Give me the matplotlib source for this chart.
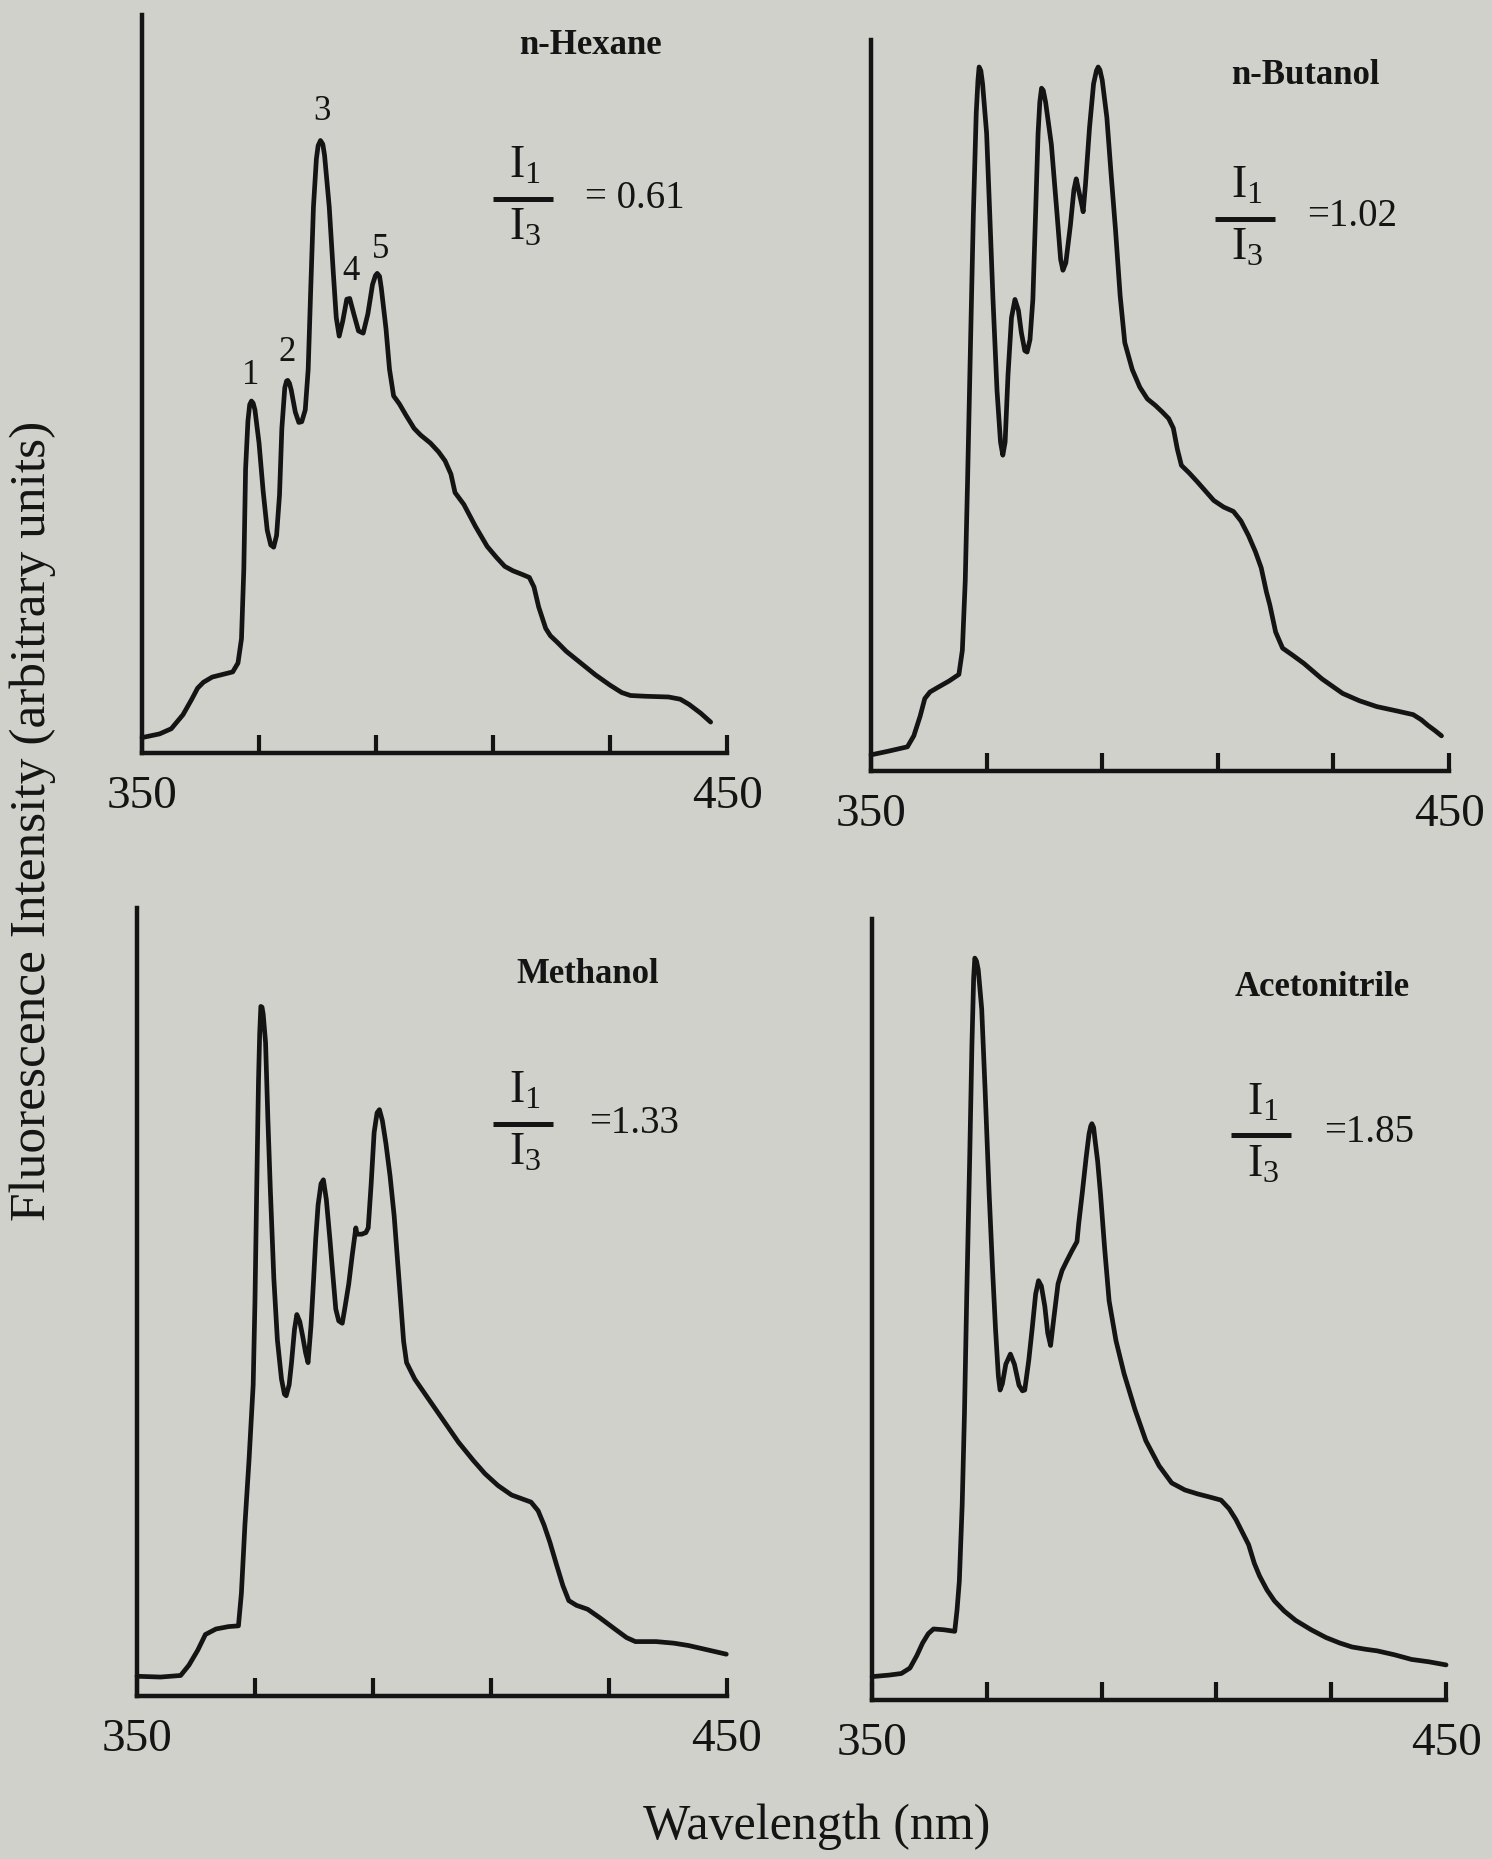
import numpy as np
import matplotlib.pyplot as plt

plt.rcParams['font.family'] = ['Liberation Serif', 'DejaVu Serif']
plt.rcParams['mathtext.fontset'] = 'custom'
plt.rcParams['mathtext.rm'] = 'Liberation Serif'
plt.rcParams['mathtext.it'] = 'Liberation Serif:italic'

# pyrene emission spectra (wavelength nm, intensity a.u.)
hexane_wl = [350.0, 353.0, 355.0, 357.0, 358.5, 359.5, 360.5, 362.0, 364.0, 365.5, 366.4, 367.0,
             367.4, 367.7, 368.1, 368.4, 368.7, 369.0, 369.3, 370.0, 370.7, 371.4, 372.0, 372.5, 373.0, 373.5,
             373.9, 374.4, 374.7, 374.9, 375.2, 375.5, 376.2, 376.8, 377.3, 377.9, 378.4, 378.8, 379.3, 379.8,
             380.1, 380.5, 380.9, 381.2, 382.0, 382.7, 383.2, 383.7, 384.3, 385.0, 385.5, 386.2, 387.0, 387.8,
             388.6, 389.4, 389.9, 390.2, 390.6, 390.9, 391.7, 392.3, 393.0, 394.0, 395.1, 396.5, 397.6, 399.3,
             400.7, 401.8, 402.8, 403.5, 405.0, 407.0, 409.0, 410.6, 412.0, 413.4, 415.0, 416.2,
             417.0, 417.8, 419.0, 419.8, 421.0, 422.5, 425.0, 427.5, 430.0, 432.0, 433.5, 436.0,
             440.0, 442.0, 443.5, 445.5, 447.2]
hexane_i = [2.1, 2.6, 3.3, 5.2, 7.3, 8.8, 9.6, 10.3, 10.7, 11.0, 12.2, 15.5,
            25, 38.5, 45, 47.2, 47.7, 47.4, 46.5, 42, 35.5, 30.2, 28.2, 27.9, 29.5, 35,
            44, 49.5, 50.4, 50.5, 50.1, 49.2, 46.2, 44.8, 44.9, 46.5, 52, 62, 74, 80.5,
            82.3, 83, 82.5, 81, 74, 65, 59, 56.5, 58.5, 61.5, 61.6, 59.5, 57.2, 56.9,
            59.5, 63.5, 64.7, 65, 64.6, 63, 57.5, 52, 48.4, 47.3, 45.8, 44.0, 43.1, 42.0,
            40.8, 39.6, 37.8, 35.3, 33.7, 30.7, 28.0, 26.5, 25.3, 24.7, 24.2, 23.8,
            22.5, 19.8, 16.9, 15.9, 15.0, 13.8, 12.2, 10.6, 9.2, 8.2, 7.8, 7.7,
            7.6, 7.3, 6.6, 5.4, 4.2]

butanol_wl = [350.0, 353.0, 356.3, 357.4, 358.5, 359.3, 360.2, 361.5, 363.5, 365.2, 365.8, 366.3,
              366.7, 367.2, 367.7, 368.2, 368.5, 368.7, 369.0, 369.3, 370.0, 370.5, 371.1, 371.8, 372.4, 372.8,
              373.2, 373.7, 374.3, 374.9, 375.5, 376.0, 376.6, 377.0, 377.5, 378.0, 378.5, 378.9,
              379.2, 379.5, 379.8, 380.2, 381.2, 382.2, 382.8, 383.2, 383.7, 384.5, 385.1, 385.5, 385.9, 386.5,
              386.7, 387.1, 387.8, 388.5, 389.0, 389.3, 389.6, 390.0, 390.8, 391.5, 392.3, 393.1, 393.9, 395.2,
              396.5, 397.8, 399.2, 400.4, 401.5, 402.3, 403.0, 403.7, 405.0, 406.4, 409.3, 411.0,
              412.7, 414.0, 415.3, 416.5, 417.5, 418.4, 419.0, 420.0, 421.2, 423.0, 424.9, 428.0,
              431.6, 434.5, 437.5, 441.0, 443.8, 445.2, 446.4, 447.6, 448.7]
butanol_i = [2.2, 2.7, 3.3, 4.8, 7.5, 9.9, 10.8, 11.4, 12.3, 13.2, 16.5, 26,
             39.6, 58, 76, 90, 94.5, 96.3, 95.8, 94, 87.2, 77, 64.5, 52, 45, 43.2,
             45, 54.2, 62, 64.5, 63, 60, 57.5, 57.3, 59, 64.5, 77, 87.2,
             91.5, 93.4, 93.1, 91.5, 85.7, 76, 70, 68.5, 69.5, 74.7, 79.5, 81, 79.5, 77.3,
             76.5, 80.2, 88, 94, 95.8, 96.3, 95.9, 94.5, 89.4, 82, 74, 65, 58.6, 54.9,
             52.5, 50.9, 50.0, 49.1, 48.2, 46.9, 44.0, 41.8, 40.8, 39.6, 37.0, 36.1,
             35.5, 34.2, 32.2, 30.0, 27.8, 24.5, 22.7, 19.0, 16.8, 15.8, 14.7, 12.6,
             10.6, 9.6, 8.8, 8.2, 7.7, 7.0, 6.2, 5.5, 4.8]

methanol_wl = [350.0, 354.0, 357.4, 358.8, 360.3, 361.6, 363.4, 365.5, 367.2, 367.7, 368.3, 369.0,
               369.7, 370.0, 370.3, 370.6, 370.8, 371.0, 371.2, 371.4, 371.8, 372.2, 372.6, 373.2, 373.8, 374.5,
               375.0, 375.3, 375.8, 376.2, 376.7, 377.1, 377.6, 378.1, 378.6, 379.0, 379.5, 379.9,
               380.3, 380.7, 381.2, 381.6, 382.1, 382.7, 383.2, 383.7, 384.2, 384.8, 385.3, 385.9,
               386.5, 387.1, 387.3, 388.1, 388.8, 389.2, 389.7, 390.2, 390.7, 391.1, 391.6, 392.2,
               392.9, 393.6, 394.5, 395.2, 395.7, 397.1, 399.5, 402.0, 404.5, 407.0, 409.0, 411.2,
               413.5, 416.8, 418.0, 419.0, 420.0, 421.1, 422.2, 423.2, 424.5, 426.4, 428.5, 431.0,
               433.0, 434.5, 438.0, 441.0, 443.5, 447.0, 449.9]
methanol_i = [2.5, 2.4, 2.6, 3.9, 5.8, 7.8, 8.5, 8.8, 8.9, 13, 21.7, 30,
              39.5, 50, 64.4, 78, 84, 87.5, 87.4, 86.5, 82.9, 73, 64.4, 53, 45.2, 40.2,
              38.3, 38.1, 39.5, 42.3, 46.5, 48.4, 47.5, 45.6, 43.5, 42.3, 47, 52.3,
              58, 62.3, 65, 65.5, 63, 58, 53.5, 49.1, 47.6, 47.3, 49.5, 52.3,
              56, 59.4, 58.6, 58.6, 58.8, 59.4, 65, 71.5, 74, 74.4, 73, 70.1,
              66, 60.9, 52, 45, 42.3, 40.2, 37.6, 34.9, 32.2, 29.9, 28.2, 26.7,
              25.5, 24.6, 23.5, 21.7, 19.5, 16.7, 14.0, 12.1, 11.5, 11.0, 9.9, 8.5,
              7.4, 6.9, 6.9, 6.7, 6.4, 5.8, 5.3]

acetonitrile_wl = [350.0, 353.0, 355.1, 356.6, 357.8, 358.8, 359.8, 360.7, 362.5, 364.4, 364.8, 365.2,
                   365.7, 366.1, 366.5, 367.0, 367.4, 367.7, 367.9, 368.2, 368.5, 369.1, 369.7, 370.4, 371.0, 371.5,
                   372.0, 372.3, 372.7, 373.3, 374.1, 374.8, 375.6, 376.2, 376.6, 377.3, 377.9, 378.5,
                   379.0, 379.5, 380.1, 380.6, 381.1, 381.6, 382.4, 383.1, 383.9, 384.8, 385.7, 386.0,
                   386.6, 387.3, 387.8, 388.1, 388.3, 388.6, 388.8, 389.3, 389.8, 390.5, 391.3, 392.5, 393.9, 395.8,
                   397.7, 400.0, 402.2, 404.5, 406.7, 408.8, 410.8, 412.2, 413.4, 414.5, 415.6, 416.6,
                   417.5, 418.8, 420.1, 421.8, 423.8, 426.5, 429.1, 431.5, 433.6, 436.0, 438.0, 441.0,
                   444.0, 447.0, 450.0]
acetonitrile_i = [3.0, 3.2, 3.4, 4.1, 5.7, 7.3, 8.5, 9.1, 9.0, 8.8, 11.5, 15.2,
                  25, 36.8, 52, 69.1, 84, 92.5, 95, 94.6, 93.5, 88.5, 78, 64.8, 55, 47.6,
                  41.5, 39.7, 40.5, 43, 44.3, 43, 40.3, 39.6, 39.7, 43.5, 47.6, 52,
                  53.7, 53, 50.4, 47, 45.4, 48.5, 53.3, 55, 56.2, 57.5, 58.7, 61,
                  64.8, 69.5, 72.5, 73.5, 73.8, 73.3, 72, 69, 64.8, 58, 51.1, 46, 41.8, 37.2,
                  33.2, 30.0, 27.8, 26.9, 26.4, 26.0, 25.6, 24.5, 23.1, 21.5, 19.9, 17.5,
                  15.9, 14.1, 12.7, 11.4, 10.2, 9.0, 8.0, 7.3, 6.8, 6.5, 6.3, 5.8,
                  5.2, 4.9, 4.5]

solvents = ['n-Hexane', 'n-Butanol', 'Methanol', 'Acetonitrile']
ratios = ['= 0.61', '=1.02', '=1.33', '=1.85']
peak_names = ['1', '2', '3', '4', '5']
peak_wl = [368.5, 374.8, 380.8, 385.7, 390.7]
peak_i = [51.1, 54.3, 86.9, 65.2, 68.3]

tick_pos = [350, 370, 390, 410, 430, 450]
tick_lab = ['350', '', '', '', '', '450']

bg = '#cfd1ca'
ink = '#141414'

fig = plt.figure(figsize=(14.92, 18.59), dpi=100, facecolor=bg)

# axes boxes in figure fractions (left, bottom, width, height)
rects = [(0.0952, 0.5949, 0.3921, 0.3970),
         (0.5838, 0.5853, 0.3874, 0.3932),
         (0.0918, 0.0877, 0.3954, 0.4239),
         (0.5845, 0.0855, 0.3847, 0.4201)]
# where title / fraction bar / ratio value sit, in data coords
title_xy = [(426.6, 95.9), (425.1, 95.1), (426.4, 91.5), (428.4, 91.3)]
frac_xy = [(415.1, 75.1), (414.7, 75.5), (415.4, 72.6), (417.8, 72.3)]
val_xy = [(425.7, 75.1), (425.4, 75.8), (426.6, 72.6), (428.7, 72.7)]

data = [(hexane_wl, hexane_i), (butanol_wl, butanol_i),
        (methanol_wl, methanol_i), (acetonitrile_wl, acetonitrile_i)]

for k in range(4):
    ax = fig.add_axes(rects[k])
    ax.set_facecolor('none')
    wl, inten = data[k]
    ax.plot(wl, inten, color=ink, lw=3.4, solid_joinstyle='round',
            solid_capstyle='round', clip_on=False)
    ax.set_xlim(350, 450)
    ax.set_ylim(0, 100)
    for s in ['top', 'right']:
        ax.spines[s].set_visible(False)
    for s in ['left', 'bottom']:
        ax.spines[s].set_linewidth(3.2)
        ax.spines[s].set_color(ink)
    ax.set_xticks(tick_pos, tick_lab)
    ax.set_yticks([])
    ax.tick_params(axis='x', direction='in', length=13, width=3, color=ink,
                   pad=16, labelsize=34, labelcolor=ink)

    ax.text(title_xy[k][0], title_xy[k][1], solvents[k], ha='center', va='center',
            fontsize=25, fontweight='bold', color=ink)

    # I1 / I3 written as a stacked fraction, bar 60 px wide
    fx, fy = frac_xy[k]
    bar = ax.transData.transform((fx, fy))
    x0 = ax.transData.inverted().transform((bar[0] - 30, bar[1]))[0]
    x1 = ax.transData.inverted().transform((bar[0] + 30, bar[1]))[0]
    ax.plot([x0, x1], [fy, fy], color=ink, lw=3.6, solid_capstyle='butt', clip_on=False)
    ax.annotate(r'$\mathrm{I}_1$', xy=(fx, fy), xytext=(2, 21), textcoords='offset pixels',
                ha='center', va='baseline', fontsize=33, color=ink)
    ax.annotate(r'$\mathrm{I}_3$', xy=(fx, fy), xytext=(2, -41), textcoords='offset pixels',
                ha='center', va='baseline', fontsize=33, color=ink)

    ax.text(val_xy[k][0], val_xy[k][1], ratios[k], ha='left', va='center',
            fontsize=28, color=ink)

    if k == 0:
        for n in range(5):
            ax.text(peak_wl[n], peak_i[n], peak_names[n], ha='center', va='center',
                    fontsize=25, color=ink)

fig.text(33 / 1492, 1 - 821 / 1859, 'Fluorescence Intensity (arbitrary units)',
         rotation=90, ha='center', va='center', fontsize=37, color=ink)
fig.text(817 / 1492, 1 - 1827 / 1859, 'Wavelength (nm)', ha='center', va='center',
         fontsize=36, color=ink)

plt.savefig('out.png', dpi=100, facecolor=bg)
